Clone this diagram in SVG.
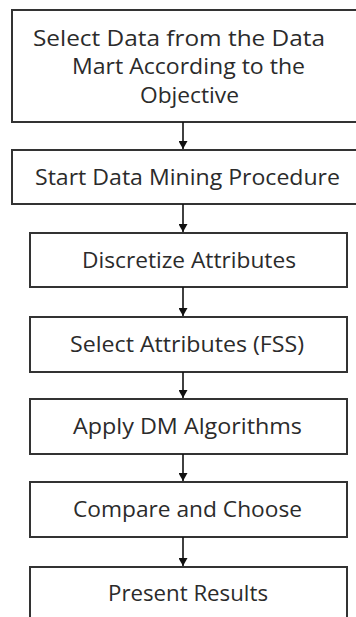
<svg xmlns="http://www.w3.org/2000/svg" width="356" height="617" viewBox="0 0 356 617">
  <defs>
    <style>
      .box { fill: #ffffff; stroke: #333333; stroke-width: 2; }
      .label { font-family: "Open Sans", "Noto Sans", "Liberation Sans", sans-serif; font-size: 22px; fill: #2b2b2b; }
      .conn { stroke: #111111; stroke-width: 1.6; fill: none; }
    </style>
    <marker id="arrowhead" viewBox="0 0 8 9" refX="8" refY="4.5" markerWidth="8" markerHeight="9" markerUnits="userSpaceOnUse" orient="auto">
      <path d="M0,0 L8,4.5 L0,9 Z" fill="#111111"/>
    </marker>
  </defs>

  <rect width="356" height="617" fill="#ffffff"/>

  <!-- process steps -->
  <g id="select-data">
    <rect class="box" x="12" y="10" width="348" height="112"/>
    <text class="label" x="33" y="46" textLength="292" lengthAdjust="spacingAndGlyphs">Select Data from the Data</text>
    <text class="label" x="72" y="74" textLength="233" lengthAdjust="spacingAndGlyphs">Mart According to the</text>
    <text class="label" x="140" y="103" textLength="99" lengthAdjust="spacingAndGlyphs">Objective</text>
  </g>

  <g id="start-dm">
    <rect class="box" x="12" y="150" width="348" height="54"/>
    <text class="label" x="35" y="185" textLength="305" lengthAdjust="spacingAndGlyphs">Start Data Mining Procedure</text>
  </g>

  <g id="discretize">
    <rect class="box" x="30" y="233" width="317" height="54"/>
    <text class="label" x="82" y="268" textLength="214" lengthAdjust="spacingAndGlyphs">Discretize Attributes</text>
  </g>

  <g id="select-attributes">
    <rect class="box" x="30" y="317" width="317" height="55"/>
    <text class="label" x="70" y="352" textLength="234" lengthAdjust="spacingAndGlyphs">Select Attributes (FSS)</text>
  </g>

  <g id="apply-dm">
    <rect class="box" x="30" y="399" width="317" height="55"/>
    <text class="label" x="73" y="434" textLength="229" lengthAdjust="spacingAndGlyphs">Apply DM Algorithms</text>
  </g>

  <g id="compare">
    <rect class="box" x="30" y="482" width="317" height="55"/>
    <text class="label" x="73" y="517" textLength="229" lengthAdjust="spacingAndGlyphs">Compare and Choose</text>
  </g>

  <g id="present">
    <rect class="box" x="30" y="567" width="317" height="60"/>
    <text class="label" x="108" y="601" textLength="160" lengthAdjust="spacingAndGlyphs">Present Results</text>
  </g>

  <!-- connectors -->
  <g id="connectors">
    <line class="conn" x1="183" y1="122" x2="183" y2="149" marker-end="url(#arrowhead)"/>
    <line class="conn" x1="183" y1="204" x2="183" y2="232" marker-end="url(#arrowhead)"/>
    <line class="conn" x1="183" y1="287" x2="183" y2="316" marker-end="url(#arrowhead)"/>
    <line class="conn" x1="183" y1="372" x2="183" y2="398" marker-end="url(#arrowhead)"/>
    <line class="conn" x1="183" y1="454" x2="183" y2="481" marker-end="url(#arrowhead)"/>
    <line class="conn" x1="183" y1="537" x2="183" y2="566" marker-end="url(#arrowhead)"/>
  </g>
</svg>
